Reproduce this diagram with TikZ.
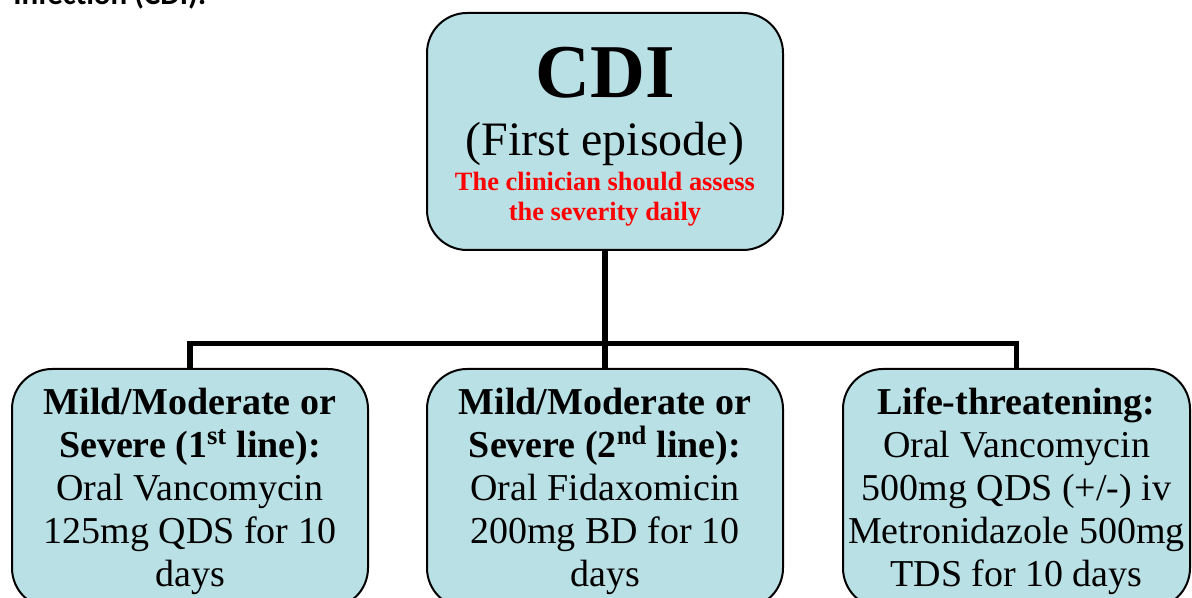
\documentclass[tikz,border=0pt]{standalone}
\usepackage{fontspec}
\setmainfont{Liberation Serif}
\newfontfamily\headfont{Carlito}
\definecolor{boxfill}{RGB}{185,224,228}

\begin{document}
\begin{tikzpicture}[x=0.75pt,y=0.75pt,yscale=-1,xscale=1,
  box/.style={draw=black, line width=1.5pt, fill=boxfill, rounded corners=30pt, inner sep=0pt, align=center, anchor=north},
  topbox/.style={box, minimum width=267pt, font=\fontsize{19.8}{30}\selectfont, text height=156pt, text depth=21.75pt},
  subbox/.style={box, minimum width=267pt, font=\fontsize{28.5}{32.25}\selectfont, text height=162.75pt, text depth=16.5pt},
  link/.style={line width=4.2pt}]
\useasboundingbox (0,0) rectangle (1192,598);
\clip (0,0) rectangle (1192,598);

% Text Node
\node [anchor=base west, inner sep=0pt, font=\headfont\bfseries\fontsize{23.25}{28}\selectfont] (heading) at (13,5) {Infection (CDI):};

%Rounded Rect
\node [topbox] (cdi) at (605,12) {{\fontsize{57}{60}\selectfont\bfseries CDI}\\[13.5pt]
  {\fontsize{36}{40}\selectfont (First episode)}\\[-3.75pt]
  \textcolor{red}{\bfseries The clinician should assess}\\[-7.5pt]
  \textcolor{red}{\bfseries the severity daily}};

%Rounded Rect
\node [subbox] (mild1) at (190,368) {\textbf{Mild/Moderate or}\\
  \textbf{Severe (1\textsuperscript{st} line):}\\
  Oral Vancomycin\\
  125mg QDS for 10\\
  days};
%Rounded Rect
\node [subbox] (mild2) at (605,368) {\textbf{Mild/Moderate or}\\
  \textbf{Severe (2\textsuperscript{nd} line):}\\
  Oral Fidaxomicin\\
  200mg BD for 10\\
  days};
%Rounded Rect
\node [subbox, minimum width=260.25pt] (life) at (1016.5,368) {\textbf{Life-threatening:}\\
  Oral Vancomycin\\
  500mg QDS (+/-) iv\\
  Metronidazole 500mg\\
  TDS for 10 days};

%Straight Lines
\coordinate (bus) at (605,343.5);
\draw [link] (cdi.south) -- (mild2.north);
\draw [link] (mild1.north) |- (bus) -| (life.north);

\end{tikzpicture}
\end{document}
